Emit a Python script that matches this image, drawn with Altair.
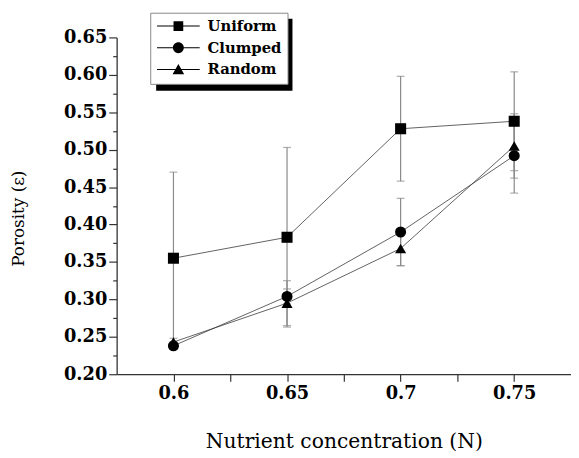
import altair as alt
import pandas as pd

# ---- data ----
concentration = [0.6, 0.65, 0.7, 0.75]
series_names = ["Uniform", "Clumped", "Random"]
uniform = [0.355, 0.383, 0.528, 0.538]
uniform_err = [0.115, 0.120, 0.070, 0.066]
clumped = [0.238, 0.304, 0.390, 0.492]
clumped_err = [0.005, 0.010, 0.045, 0.050]
random_ = [0.243, 0.295, 0.368, 0.505]
random_err = [0.005, 0.030, 0.023, 0.043]

y_ticks = [0.2, 0.225, 0.25, 0.275, 0.3, 0.325, 0.35, 0.375, 0.4, 0.425,
           0.45, 0.475, 0.5, 0.525, 0.55, 0.575, 0.6, 0.625, 0.65]
x_ticks = [0.6, 0.625, 0.65, 0.675, 0.7, 0.725, 0.75]

rows = []
for name, vals, errs in [("Uniform", uniform, uniform_err),
                         ("Clumped", clumped, clumped_err),
                         ("Random", random_, random_err)]:
    for xv, v, e in zip(concentration, vals, errs):
        rows.append({"N": xv, "series": name, "legend": name, "value": v,
                     "lo": v - e, "hi": v + e})
df = pd.DataFrame(rows)

SERIF = "DejaVu Serif"

xscale = alt.Scale(domain=[0.575, 0.775], nice=False, zero=False)
yscale = alt.Scale(domain=[0.2, 0.65], nice=False, zero=False)

major = "round(datum.value*1000) % 50 == 0"

x_axis = alt.Axis(
    title="Nutrient concentration (N)", values=x_ticks, format="~g",
    labelExpr=f"{major} ? datum.label : ''",
    labelFlush=False, labelOverlap=False,
    tickSize=7, labelPadding=4,
    labelFont=SERIF, labelFontWeight="bold", labelFontSize=18, labelColor="black",
    titleFont=SERIF, titleFontWeight="normal", titleFontSize=20.5, titleColor="black",
    titlePadding=29,
)
y_axis = alt.Axis(
    title="Porosity (ε)", values=y_ticks, format=".2f",
    labelExpr=f"{major} ? datum.label : ''",
    labelOverlap=False,
    tickSize={"condition": {"test": major, "value": 8}, "value": 4},
    labelPadding=2,
    labelFont=SERIF, labelFontWeight="bold", labelFontSize=18, labelColor="black",
    titleFont=SERIF, titleFontWeight="normal", titleFontSize=17, titleColor="black",
    titlePadding=36, titleY=183,
)

base = alt.Chart(df)

errs = base.mark_rule(color="#8a8a8a", strokeWidth=1.2).encode(
    x=alt.X("N:Q", scale=xscale, axis=x_axis),
    y=alt.Y("lo:Q", scale=yscale, axis=y_axis),
    y2="hi:Q",
)
cap_lo = base.mark_tick(orient="horizontal", size=8, thickness=1.2, color="#8a8a8a").encode(
    x=alt.X("N:Q", scale=xscale, axis=x_axis), y=alt.Y("lo:Q", scale=yscale, axis=y_axis))
cap_hi = base.mark_tick(orient="horizontal", size=8, thickness=1.2, color="#8a8a8a").encode(
    x=alt.X("N:Q", scale=xscale, axis=x_axis), y=alt.Y("hi:Q", scale=yscale, axis=y_axis))

lines = base.mark_line(color="#3a3a3a", strokeWidth=0.8).encode(
    x=alt.X("N:Q", scale=xscale, axis=x_axis),
    y=alt.Y("value:Q", scale=yscale, axis=y_axis),
    detail="series:N",
)

points = base.mark_point(filled=True, color="black", opacity=1, size=125).encode(
    x=alt.X("N:Q", scale=xscale, axis=x_axis),
    y=alt.Y("value:Q", scale=yscale, axis=y_axis),
    shape=alt.Shape("series:N", scale=alt.Scale(domain=series_names,
                    range=["square", "circle", "triangle-up"]), legend=None),
)

# legend symbols: a line with the marker in the middle
leg_paths = [
    "M-3.6,-0.09H3.6V0.09H-3.6Z M-0.82,-0.82H0.82V0.82H-0.82Z",
    "M-3.6,-0.09H3.6V0.09H-3.6Z M-0.92,0 A0.92,0.92 0 1,1 0.92,0 A0.92,0.92 0 1,1 -0.92,0 Z",
    "M-3.6,-0.09H3.6V0.09H-3.6Z M0,-0.95 L0.98,0.8 L-0.98,0.8 Z",
]
legend_layer = base.mark_point(filled=True, color="black", opacity=0).encode(
    x=alt.X("N:Q", scale=xscale, axis=x_axis),
    y=alt.Y("value:Q", scale=yscale, axis=y_axis),
    shape=alt.Shape("legend:N", scale=alt.Scale(domain=series_names, range=leg_paths),
                    legend=alt.Legend(
                        title=None, orient="none", legendX=34, legendY=-25,
                        symbolSize=144, symbolOpacity=1, symbolFillColor="black",
                        symbolStrokeWidth=0, symbolOffset=15, labelOffset=22,
                        labelFont=SERIF, labelFontWeight="bold", labelFontSize=15,
                        labelColor="black", rowPadding=6, padding=6,
                        fillColor="white", strokeColor="#888888",
                    )),
)

shadow = alt.Chart(pd.DataFrame({"k": [0]})).mark_rect(color="black").encode(
    x=alt.value(40), x2=alt.value(178), y=alt.value(-19), y2=alt.value(54))

chart = alt.layer(shadow, errs, cap_lo, cap_hi, lines, points, legend_layer).resolve_scale(
    shape="independent"
).properties(
    width=460, height=341,
    autosize=alt.AutoSizeParams(type="none"),
    padding={"left": 110, "top": 27, "right": 0, "bottom": 81},
).configure_view(stroke=None).configure_axis(
    grid=False, domainColor="#333333", domainWidth=1.3, tickColor="#333333", tickWidth=1.2,
    labelOverlap=False,
)

chart.save("out.html", embed_options={"renderer": "svg", "actions": False})
